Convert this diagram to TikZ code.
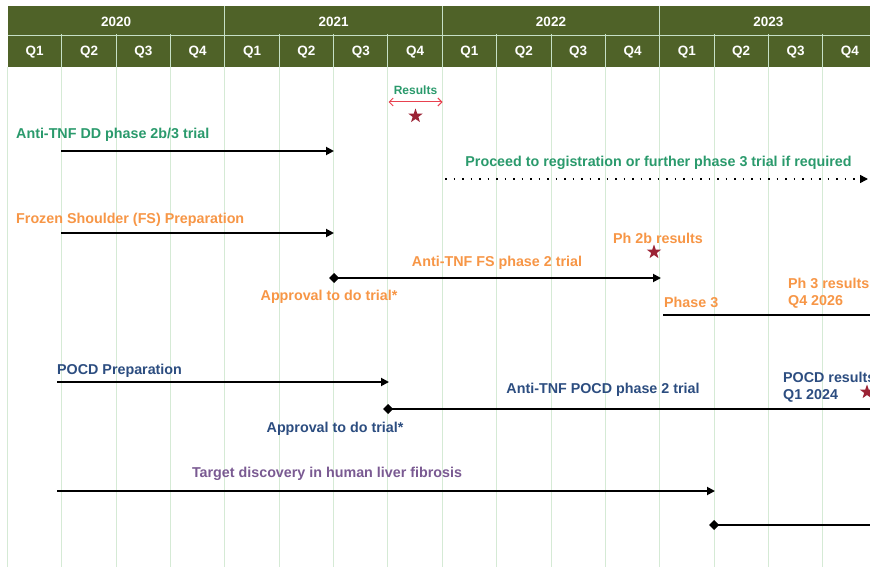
\documentclass[tikz,border=0pt]{standalone}
\usepackage{fontspec}
\setmainfont{Liberation Sans}
\usetikzlibrary{arrows.meta,shapes.geometric}
\definecolor{hdr}{HTML}{4F6228}
\definecolor{hdrline}{HTML}{C6E0C6}
\definecolor{grid}{HTML}{D5EAD5}
\definecolor{tgreen}{HTML}{2A9A6C}
\definecolor{torange}{HTML}{F79646}
\definecolor{tblue}{HTML}{2C4D80}
\definecolor{tpurple}{HTML}{7A5A92}
\definecolor{starred}{HTML}{9B2335}
\definecolor{resred}{HTML}{E8414F}
\tikzset{
  hdrtxt/.style={text=white,font=\fontsize{13.5}{15}\selectfont\bfseries,inner sep=0},
  lbl/.style={font=\fontsize{14.3}{16.5}\selectfont\bfseries,inner sep=0},
  bar/.style={line width=1.8pt,black},
  arr/.style={bar,-{Triangle[length=8pt,width=8pt]}},
  dia/.style={bar,{Diamond[length=10pt,width=10pt]}-},
  diaarr/.style={bar,{Diamond[length=10pt,width=10pt]}-{Triangle[length=8pt,width=8pt]}},
  dotarr/.style={line width=1.6pt,black,dash pattern=on 1.6pt off 6.9pt,-{Triangle[length=8pt,width=8pt]}},
  mstar/.style={star,star points=5,star point ratio=2.5,fill=starred,minimum size=15pt,inner sep=0},
}
\begin{document}
\begin{tikzpicture}[x=1pt,y=-1pt]
\useasboundingbox (0,0) rectangle (870,567);
\clip (0,0) rectangle (870,567);
\fill[white] (0,0) rectangle (870,567);
% grid lines in body
\foreach \k in {0,...,16}{
  \draw[grid,line width=1pt] ({7.5+54.35*\k},67) -- ({7.5+54.35*\k},567);
}
% header
\fill[hdr] (7.5,6) rectangle (880,67);
\draw[hdrline,line width=1pt] (7.5,36) -- (880,36);
\foreach \k in {1,2,3,5,6,7,9,10,11,13,14,15}{
  \draw[hdrline,line width=1pt] ({7.5+54.35*\k},34) -- ({7.5+54.35*\k},67);
}
\foreach \k in {4,8,12}{
  \draw[hdrline,line width=1pt] ({7.5+54.35*\k},6) -- ({7.5+54.35*\k},67);
}
\foreach \y [count=\i from 0] in {2020,2021,2022,2023}{
  \node[hdrtxt] (y\y) at ({7.5+54.35*(4*\i+2)},21.5) {\y};
}
\foreach \k in {0,...,15}{
  \pgfmathtruncatemacro{\q}{mod(\k,4)+1}
  \node[hdrtxt] (q\k) at ({7.5+54.35*(\k+0.5)},52) {Q\q};
}
% Results
\node[lbl,text=tgreen,font=\fontsize{12}{14}\selectfont\bfseries] (res) at (415.5,90) {Results};
\coordinate (resA) at (388.5,102);
\coordinate (resB) at (442.5,102);
\draw[resred,line width=1pt,{Straight Barb[length=4pt,width=8pt]}-{Straight Barb[length=4pt,width=8pt]}] (resA) -- (resB);
\node[mstar] (s1) at (415.5,116) {};
% DD row
\node[lbl,text=tgreen,anchor=west] (dd) at (16,135) {Anti-TNF DD phase 2b/3 trial};
\coordinate (dd1) at (61,151);
\coordinate (dd2) at (334,151);
\draw[arr] (dd1) -- (dd2);
\node[lbl,text=tgreen] (proc) at (658.5,163) {Proceed to registration or further phase 3 trial if required};
\coordinate (pr1) at (445,179);
\coordinate (pr2) at (868,179);
\draw[dotarr] (pr1) -- (pr2);
% FS row
\node[lbl,text=torange,anchor=west] (fsp) at (16,220) {Frozen Shoulder (FS) Preparation};
\coordinate (fs1) at (61,233);
\coordinate (fs2) at (334,233);
\draw[arr] (fs1) -- (fs2);
\node[lbl,text=torange] (ph2b) at (658,238) {Ph 2b results};
\node[mstar] (s2) at (654,252) {};
\node[lbl,text=torange] (fst) at (497,263) {Anti-TNF FS phase 2 trial};
\coordinate (ft1) at (329,278);
\coordinate (ft2) at (661,278);
\draw[diaarr] (ft1) -- (ft2);
\node[lbl,text=torange] (ap1) at (329,297) {Approval to do trial*};
\node[lbl,text=torange,anchor=west] (ph3) at (664,302) {Phase 3};
\node[lbl,text=torange,anchor=north west,align=left] (ph3r) at (788,278) {Ph 3 results\\Q4 2026};
\coordinate (p31) at (663,315);
\coordinate (p32) at (872,315);
\draw[bar] (p31) -- (p32);
% POCD row
\node[lbl,text=tblue,anchor=west] (pp) at (57,371) {POCD Preparation};
\coordinate (pp1) at (57,382);
\coordinate (pp2) at (389,382);
\draw[arr] (pp1) -- (pp2);
\node[lbl,text=tblue] (pt) at (603,390) {Anti-TNF POCD phase 2 trial};
\node[lbl,text=tblue,anchor=north west,align=left] (pr) at (783,372) {POCD results\\Q1 2024};
\node[mstar] (s3) at (867,392) {};
\coordinate (pt1) at (383,409);
\coordinate (pt2) at (872,409);
\draw[dia] (pt1) -- (pt2);
\node[lbl,text=tblue] (ap2) at (335,429) {Approval to do trial*};
% Target discovery row
\node[lbl,text=tpurple] (td) at (327,474) {Target discovery in human liver fibrosis};
\coordinate (td1) at (57,491);
\coordinate (td2) at (715,491);
\draw[arr] (td1) -- (td2);
\coordinate (tl1) at (709,525);
\coordinate (tl2) at (872,525);
\draw[dia] (tl1) -- (tl2);
\end{tikzpicture}
\end{document}
